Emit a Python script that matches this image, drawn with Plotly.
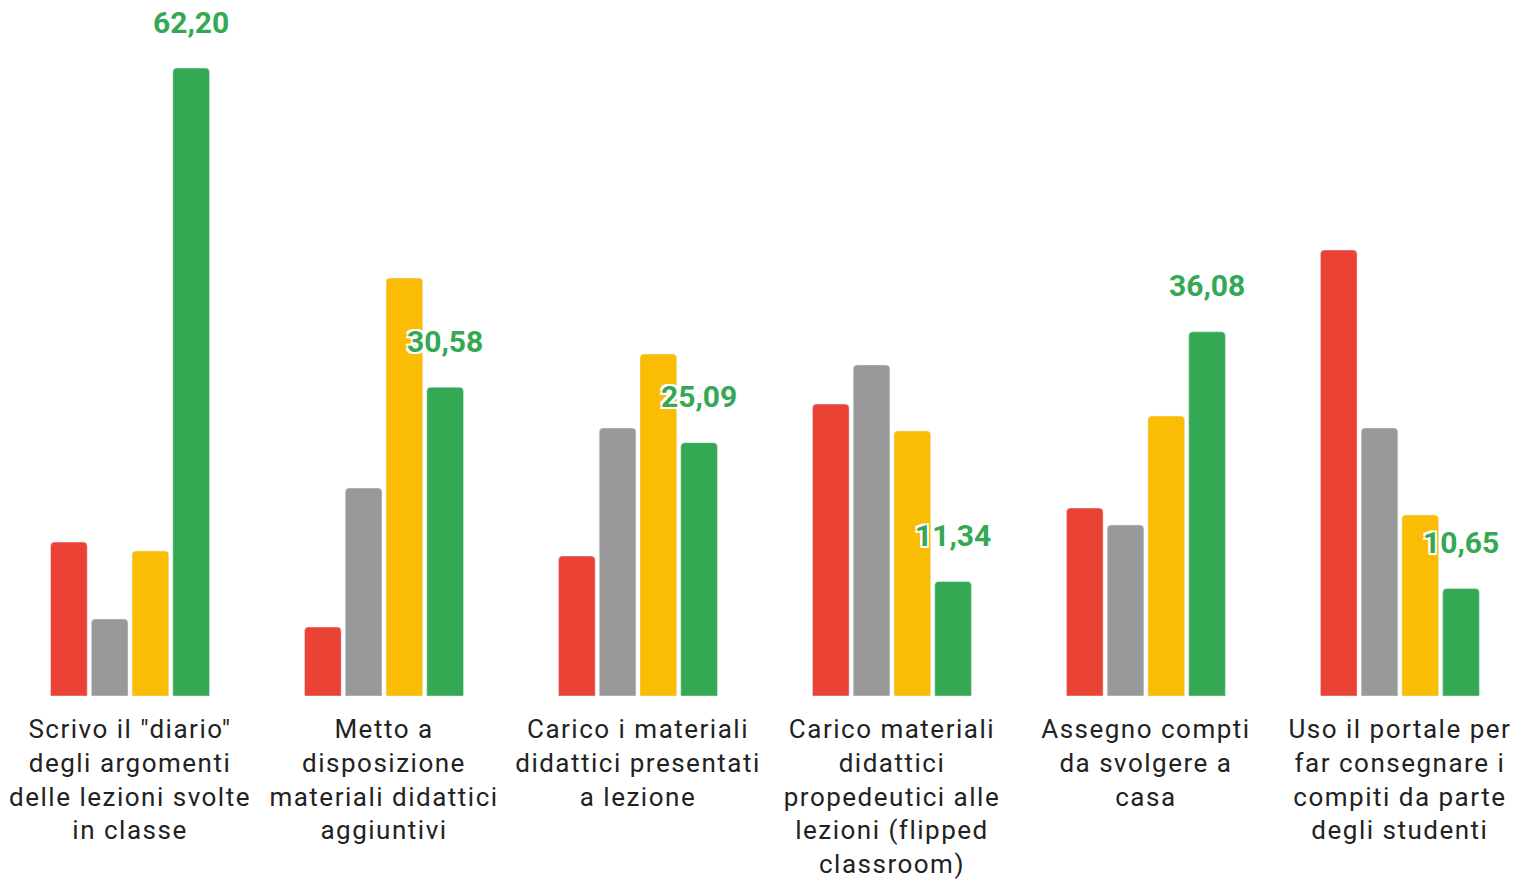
import plotly.graph_objects as go

categories = [
    'Scrivo il "diario"<br>degli argomenti<br>delle lezioni svolte<br>in classe',
    'Metto a<br>disposizione<br>materiali didattici<br>aggiuntivi',
    'Carico i materiali<br>didattici presentati<br>a lezione',
    'Carico materiali<br>didattici<br>propedeutici alle<br>lezioni (flipped<br>classroom)',
    'Assegno compti<br>da svolgere a<br>casa',
    'Uso il portale per<br>far consegnare i<br>compiti da parte<br>degli studenti',
]
red_vals = [15.25, 6.83, 13.87, 28.92, 18.62, 44.18]
gray_vals = [7.63, 20.6, 26.55, 32.79, 16.94, 26.55]
yellow_vals = [14.36, 41.4, 33.87, 26.25, 27.73, 17.93]
green_vals = [62.20, 30.58, 25.09, 11.34, 36.08, 10.65]

colors = ["#ea4335", "#999999", "#fbbc04", "#34a853"]
series = [red_vals, gray_vals, yellow_vals, green_vals]
names = ["Rosso", "Grigio", "Giallo", "Verde"]

x_idx = list(range(len(categories)))

fig = go.Figure()
for vals, col, nm in zip(series, colors, names):
    fig.add_trace(go.Bar(x=x_idx, y=vals, name=nm, marker=dict(color=col, cornerradius=4),
                         hoverinfo="y"))

for i, v in enumerate(green_vals):
    fig.add_annotation(
        x=i, y=v, xref="x", yref="y",
        text="<b>" + f"{v:.2f}".replace(".", ",") + "</b>",
        showarrow=False, xshift=61, yshift=46, yanchor="middle",
        font=dict(family="Roboto", size=30, color="#34a853",
                  shadow="2px 2px 0 white, -2px -2px 0 white, 2px -2px 0 white, -2px 2px 0 white"),
    )

fig.update_layout(
    width=1519, height=879,
    margin=dict(l=0, r=0, t=0, b=183),
    barmode="group", bargap=0.358, bargroupgap=0.1,
    plot_bgcolor="white", paper_bgcolor="white",
    showlegend=False,
    font=dict(family="Roboto", color="#222222"),
)
fig.update_xaxes(
    tickmode="array", tickvals=x_idx, ticktext=categories,
    range=[-0.512, 5.469], showgrid=False, zeroline=False, showline=False,
    tickfont=dict(size=26, family="Roboto", color="#222222"), ticks="", ticklabelstandoff=15,
)
fig.update_yaxes(range=[0, 68.94], showgrid=False, zeroline=False, showticklabels=False, showline=False)

post = """
document.body.style.margin = '0';
document.body.style.overflow = 'hidden';
var gd = document.getElementById('{plot_id}');
function spaceTicks(){ gd.querySelectorAll('.xtick text').forEach(function(t){ t.style.letterSpacing = '1.5px'; }); }
spaceTicks();
gd.on && gd.on('plotly_afterplot', spaceTicks);
"""
fig.write_html("out.html", post_script=post, config={"displayModeBar": False})
